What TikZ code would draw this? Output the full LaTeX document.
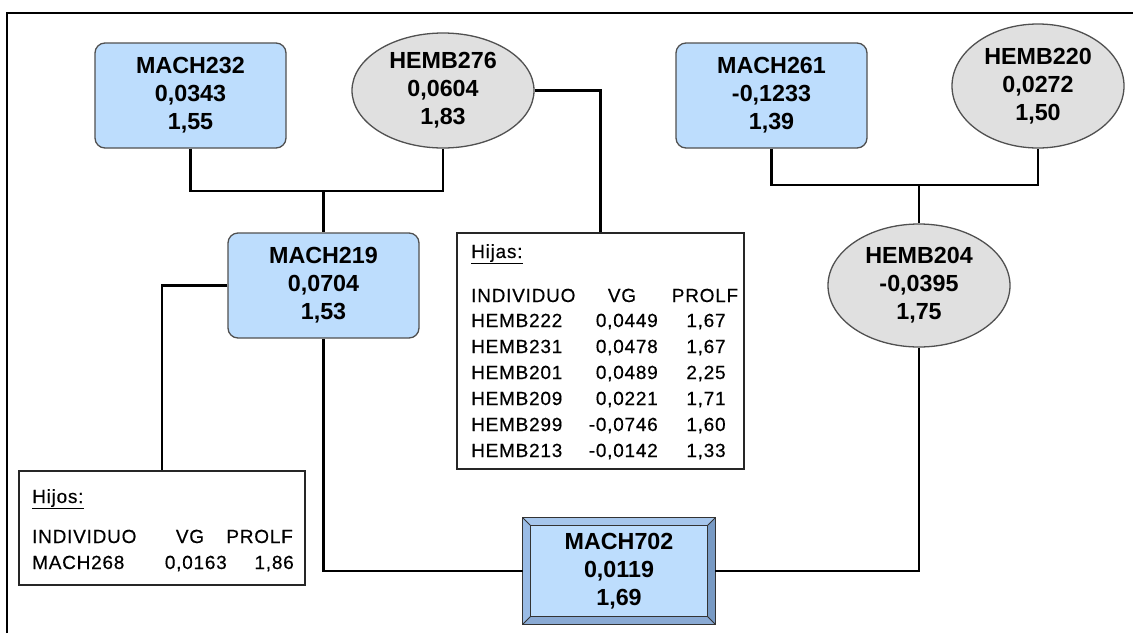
\documentclass[tikz,border=0pt]{standalone}
\usepackage{fontspec}
\setmainfont{Liberation Sans}
\newfontfamily\tabfont[LetterSpace=4,FakeBold=0.4]{Liberation Sans}
\usetikzlibrary{shapes.geometric,calc}

\definecolor{boxblue}{RGB}{189,221,253}
\definecolor{ellgray}{RGB}{224,224,224}
\definecolor{edgegray}{RGB}{80,80,80}
\definecolor{bevtop}{RGB}{166,198,236}
\definecolor{bevleft}{RGB}{154,188,230}
\definecolor{bevbottom}{RGB}{138,170,212}
\definecolor{bevright}{RGB}{120,154,196}

\begin{document}
\begin{tikzpicture}[x=1pt,y=-1pt,
  lbl/.style={font=\bfseries\fontsize{23.3}{28}\selectfont, align=center, text=black},
  male/.style={lbl, draw=edgegray, line width=1.3pt, fill=boxblue, rounded corners=10pt,
               minimum width=191pt, minimum height=105pt, inner sep=0pt},
  female/.style={lbl, ellipse, draw=edgegray, line width=1.3pt, fill=ellgray, inner sep=0pt},
  link/.style={line width=2.6pt, black},
  listbox/.style={draw=black!85, line width=1.3pt, fill=white, inner sep=0pt},
  cell/.style={font=\tabfont\fontsize{19}{22}\selectfont, inner sep=0pt, text=black},
]
\useasboundingbox (0,0) rectangle (1133,633);

% outer frame (top and left edges)
\draw[line width=2pt] (7,633) -- (7,13) -- (1133,13);

% parents of MACH219
\node[male] (m232) at (190.5,95.5) {MACH232\\0,0343\\1,55};
\node[female, minimum width=182pt, minimum height=115pt] (h276) at (443,90.5) {HEMB276\\0,0604\\1,83};

% parents of HEMB204
\node[male] (m261) at (771.5,95.5) {MACH261\\-0,1233\\1,39};
\node[female, minimum width=172pt, minimum height=124pt] (h220) at (1038,86) {HEMB220\\0,0272\\1,50};

% parents of MACH702
\node[male] (m219) at (323.5,285.5) {MACH219\\0,0704\\1,53};
\node[female, minimum width=182pt, minimum height=123pt] (h204) at (919,285.5) {HEMB204\\-0,0395\\1,75};

% MACH702 with bevelled frame
\node[lbl, fill=boxblue, minimum width=192pt, minimum height=106pt, inner sep=0pt] (m702) at (619,571) {MACH702\\0,0119\\1,69};
\fill[bevtop] (m702.north west) -- (m702.north east) -- ($(m702.north east)+(-8,8)$) -- ($(m702.north west)+(8,8)$) -- cycle;
\fill[bevleft] (m702.north west) -- ($(m702.north west)+(8,8)$) -- ($(m702.south west)+(8,-8)$) -- (m702.south west) -- cycle;
\fill[bevbottom] (m702.south west) -- ($(m702.south west)+(8,-8)$) -- ($(m702.south east)+(-8,-8)$) -- (m702.south east) -- cycle;
\fill[bevright] (m702.north east) -- (m702.south east) -- ($(m702.south east)+(-8,-8)$) -- ($(m702.north east)+(-8,8)$) -- cycle;
\draw[black!80, line width=1.2pt] (m702.north west) rectangle (m702.south east);
\draw[black!80, line width=1.2pt] ($(m702.north west)+(8,8)$) rectangle ($(m702.south east)+(-8,-8)$);
\draw[black!80, line width=0.8pt]
  (m702.north west) -- ++(8,8)  (m702.north east) -- ++(-8,8)
  (m702.south west) -- ++(8,-8) (m702.south east) -- ++(-8,-8);

% list of daughters
\node[listbox, minimum width=287pt, minimum height=236pt] (hijas) at (600.5,351) {};
\node[cell, anchor=base west] (hijas-title) at (471,258) {\underline{Hijas:}};
\node[cell, anchor=base west] (hijas-c1) at (471,302) {INDIVIDUO};
\node[cell, anchor=base] (hijas-c2) at (622,302) {VG};
\node[cell, anchor=base] (hijas-c3) at (705,302) {PROLF};
\node[cell, anchor=base west] (ha1) at (471,327) {HEMB222};
\node[cell, anchor=base east] (ha2) at (658,327) {0,0449};
\node[cell, anchor=base] (ha3) at (706,327) {1,67};
\node[cell, anchor=base west] (hb1) at (471,353) {HEMB231};
\node[cell, anchor=base east] (hb2) at (658,353) {0,0478};
\node[cell, anchor=base] (hb3) at (706,353) {1,67};
\node[cell, anchor=base west] (hc1) at (471,379) {HEMB201};
\node[cell, anchor=base east] (hc2) at (658,379) {0,0489};
\node[cell, anchor=base] (hc3) at (706,379) {2,25};
\node[cell, anchor=base west] (hd1) at (471,405) {HEMB209};
\node[cell, anchor=base east] (hd2) at (658,405) {0,0221};
\node[cell, anchor=base] (hd3) at (706,405) {1,71};
\node[cell, anchor=base west] (he1) at (471,431) {HEMB299};
\node[cell, anchor=base east] (he2) at (658,431) {-0,0746};
\node[cell, anchor=base] (he3) at (706,431) {1,60};
\node[cell, anchor=base west] (hf1) at (471,457) {HEMB213};
\node[cell, anchor=base east] (hf2) at (658,457) {-0,0142};
\node[cell, anchor=base] (hf3) at (706,457) {1,33};

% list of sons
\node[listbox, minimum width=286pt, minimum height=114pt] (hijos) at (162,528) {};
\node[cell, anchor=base west] (hijos-title) at (32,503) {\underline{Hijos:}};
\node[cell, anchor=base west] (hijos-c1) at (32,543) {INDIVIDUO};
\node[cell, anchor=base] (hijos-c2) at (190,543) {VG};
\node[cell, anchor=base east] (hijos-c3) at (293,543) {PROLF};
\node[cell, anchor=base west] (ma1) at (32,569) {MACH268};
\node[cell, anchor=base east] (ma2) at (227,569) {0,0163};
\node[cell, anchor=base east] (ma3) at (294,569) {1,86};

% pedigree connectors
\coordinate (jl) at (323.5,191);
\coordinate (jr) at (919,185);
\draw[link] (m232.south) |- (jl) -| (h276.south);
\draw[link] (jl) -- (m219.north);
\draw[link] (m261.south) |- (jr) -| (h220.south);
\draw[link] (jr) -- (h204.north);
\draw[link] (h276.east) -| (hijas.north);
\draw[link] (m219.west) -| (hijos.north);
\draw[link] (m219.south) |- (m702.west);
\draw[link] (h204.south) |- (m702.east);
\end{tikzpicture}
\end{document}
